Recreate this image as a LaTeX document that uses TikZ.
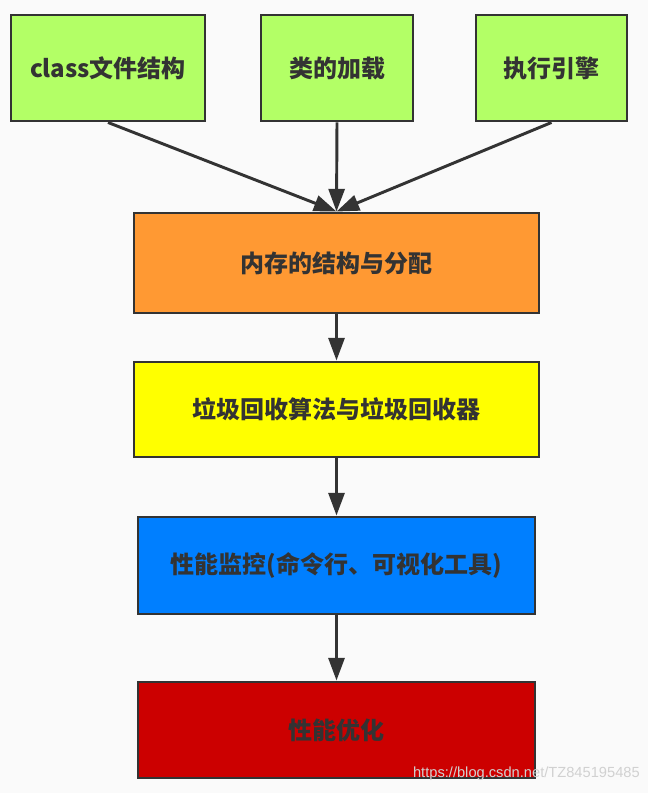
\documentclass[tikz,border=0pt]{standalone}
\usepackage{fontspec}
\usepackage{tikz}
\usetikzlibrary{arrows.meta}
\newfontfamily\cjk{Noto Sans CJK SC}
\newfontfamily\wmfont{Liberation Sans}
\definecolor{bgc}{HTML}{FAFAFA}
\definecolor{lnc}{HTML}{333333}
\definecolor{grn}{HTML}{B3FF66}
\definecolor{org}{HTML}{FF9933}
\definecolor{ylw}{HTML}{FFFF00}
\definecolor{blu}{HTML}{007FFF}
\definecolor{rd}{HTML}{CC0000}
\tikzstyle{bx}=[rectangle, draw = lnc, line width = 2.2pt, inner sep = 0pt, text = lnc, font = \cjk\bfseries\fontsize{18}{21}\selectfont]
\tikzstyle{ar}=[draw = lnc, line width = 2.2pt, -{Triangle[length=17pt, width=12pt]}]

\begin{document}
\begin{tikzpicture}[x=0.75pt, y=-0.75pt]
  \fill[bgc] (0,0) rectangle (648,793);
  \useasboundingbox (0,0) rectangle (648,793);
  \node[bx, fill = grn, minimum width = 145.5pt, minimum height = 79.5pt] (cls) at (108,68) {class文件结构};
  \node[bx, fill = grn, minimum width = 114pt, minimum height = 79.5pt] (load) at (337,68) {类的加载};
  \node[bx, fill = grn, minimum width = 113.25pt, minimum height = 79.5pt] (exe) at (551.5,68) {执行引擎};
  \node[bx, fill = org, minimum width = 303.75pt, minimum height = 75pt] (mem) at (336.5,263) {内存的结构与分配};
  \node[bx, fill = ylw, minimum width = 303.75pt, minimum height = 71.25pt] (gc) at (336.5,409.5) {垃圾回收算法与垃圾回收器};
  \node[bx, fill = blu, minimum width = 297.75pt, minimum height = 72.75pt] (mon) at (336.5,565.5) {性能监控(命令行、可视化工具)};
  \node[bx, fill = rd, minimum width = 297.75pt, minimum height = 72pt] (opt) at (336.5,730) {性能优化};
  \draw[ar] (cls.south) -- (mem.north);
  \draw[ar] (load.south) -- (mem.north);
  \draw[ar] (exe.south) -- (mem.north);
  \draw[ar] (mem) -- (gc);
  \draw[ar] (gc) -- (mon);
  \draw[ar] (mon) -- (opt);
  \node[anchor = east, text = white!82!black, font = \wmfont\fontsize{11}{13}\selectfont, inner sep = 0pt] (wm) at (640,774) {https://blog.csdn.net/TZ845195485};
\end{tikzpicture}
\end{document}
